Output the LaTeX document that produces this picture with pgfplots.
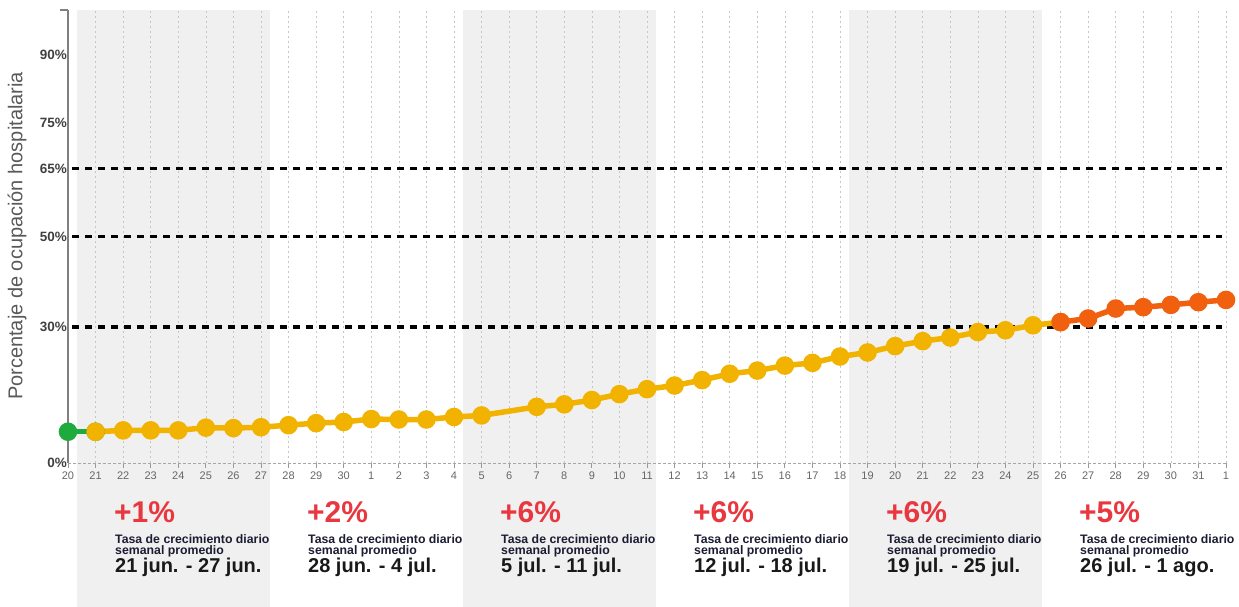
\documentclass[border=0pt]{standalone}
\usepackage{pgfplots}
\pgfplotsset{compat=1.18}
\usepackage{fontspec}
\setmainfont{Liberation Sans}
\definecolor{cgreen}{HTML}{1EAA3C}
\definecolor{cyellow}{HTML}{F2B200}
\definecolor{corange}{HTML}{F0600F}
\definecolor{cred}{HTML}{E8373E}
\definecolor{band}{HTML}{F0F0F0}
\definecolor{navy}{HTML}{1C1C33}
\begin{document}
\begin{tikzpicture}[x=1pt,y=1pt]
\begin{axis}[
  set layers,
  at={(68pt,144pt)}, anchor=south west,
  scale only axis, width=1158pt, height=453pt,
  xmin=0, xmax=42, ymin=0, ymax=100,
  clip=false,
  axis x line*=bottom, axis y line*=left,
  x axis line style={gray!70, dash pattern=on 3pt off 2pt, line width=0.8pt},
  y axis line style={black!50, line width=1.2pt},
  xtick={0,...,42},
  xticklabels={20,21,22,23,24,25,26,27,28,29,30,1,2,3,4,5,6,7,8,9,10,11,12,13,14,15,16,17,18,19,20,21,22,23,24,25,26,27,28,29,30,31,1},
  xtick align=outside,
  x tick style={gray!80, line width=0.8pt},
  major tick length=5pt,
  x tick label style={font=\fontsize{11}{12}\selectfont, text=black!60},
  ytick={0,30,50,65,75,90},
  yticklabels={0\%,30\%,50\%,65\%,75\%,90\%},
  y tick style={draw=none},
  y tick label style={font=\bfseries\fontsize{13.5}{15}\selectfont, text=black!75, inner sep=1pt},
  xmajorgrids,
  major x grid style={gray!45, dash pattern=on 2pt off 3pt, line width=0.7pt},
]
\begin{pgfonlayer}{axis background}
\fill[band] (axis cs:0.33,-31.7) rectangle (axis cs:7.33,100);
\fill[band] (axis cs:14.33,-31.7) rectangle (axis cs:21.33,100);
\fill[band] (axis cs:28.33,-31.7) rectangle (axis cs:35.33,100);
\end{pgfonlayer}
\draw[black!50, line width=1.2pt] (axis cs:0,100) -- ++(-8pt,0);
% threshold lines
\addplot[black, line width=3.5pt, dash pattern=on 7pt off 6pt] coordinates {(0.15,65) (41.85,65)};
\addplot[black, line width=3.5pt, dash pattern=on 7pt off 6pt] coordinates {(0.15,50) (41.85,50)};
\addplot[black, line width=3.5pt, dash pattern=on 7pt off 6pt] coordinates {(0.15,30) (41.85,30)};
% data
\addplot[cgreen, line width=5.5pt, mark=*, mark size=6.5pt, mark options={solid}] coordinates {(0,6.9) (1,6.9)};
\addplot[cyellow, line width=5.5pt, mark=*, mark size=6.5pt, mark options={solid}] coordinates {
(1,6.9) (2,7.2) (3,7.2) (4,7.2) (5,7.8) (6,7.7) (7,7.9) (8,8.35) (9,8.8) (10,9.05)
(11,9.7) (12,9.6) (13,9.6) (14,10.15) (15,10.5) (17,12.4) (18,12.95) (19,13.9) (20,15.2)
(21,16.3) (22,17.1) (23,18.3) (24,19.7) (25,20.4) (26,21.5) (27,22.1) (28,23.5) (29,24.4)
(30,25.8) (31,26.9) (32,27.7) (33,28.9) (34,29.3) (35,30.4) (36,31.1)};
\addplot[corange, line width=5.5pt, mark=*, mark size=6.5pt, mark options={solid}] coordinates {
(36,31.1) (37,31.9) (38,34.1) (39,34.4) (40,34.9) (41,35.5) (42,36.0)};
\end{axis}
\node[rotate=90, font=\fontsize{20}{21}\selectfont, text=black!65] at (17,371) {Porcentaje de ocupación hospitalaria};
\foreach \k/\p/\d in {0/1/{21 jun. - 27 jun.}, 1/2/{28 jun. - 4 jul.}, 2/6/{5 jul. - 11 jul.}, 3/6/{12 jul. - 18 jul.}, 4/6/{19 jul. - 25 jul.}, 5/5/{26 jul. - 1 ago.}}{
  \node[anchor=base west, inner sep=0, text=cred, font=\bfseries\fontsize{30}{32}\selectfont] at ({114+193*\k},84) {+\p\%};
  \node[anchor=base west, inner sep=0, text=navy, font=\bfseries\fontsize{12.3}{13}\selectfont] at ({115+193*\k},63) {Tasa de crecimiento diario};
  \node[anchor=base west, inner sep=0, text=navy, font=\bfseries\fontsize{12.3}{13}\selectfont] at ({115+193*\k},52) {semanal promedio};
  \node[anchor=base west, inner sep=0, text=black!90, font=\bfseries\fontsize{20}{22}\selectfont] at ({115+193*\k},34) {\d};
}
\pgfresetboundingbox
\useasboundingbox (0,0) rectangle (1239,607);
\end{tikzpicture}
\end{document}
